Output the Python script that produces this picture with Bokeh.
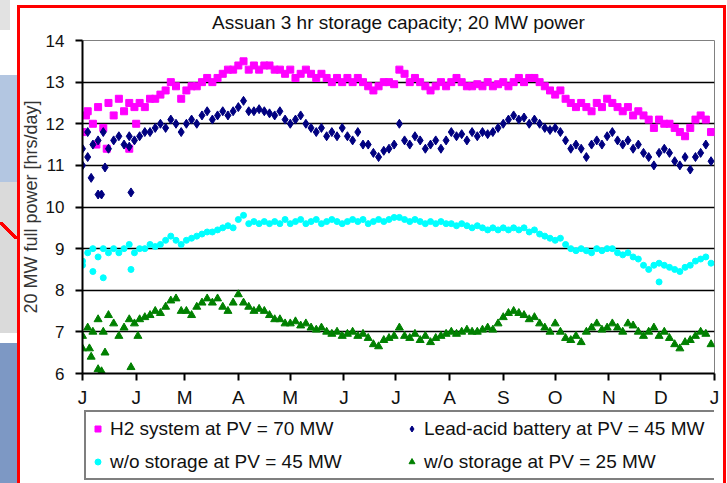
from bokeh.plotting import figure
from bokeh.layouts import column
from bokeh.models import FixedTicker, Legend, LegendItem
from bokeh.embed import file_html
from bokeh.resources import INLINE

FONT = "Liberation Sans"

# day of year for the sampled points (every 3rd day)
days = list(range(0, 364, 3))

# H2 system at PV = 70 MW  (hrs/day)
h2 = [11.8, 12.3, 12.0, 12.4, 11.9, 12.5, 12.2, 12.6, 12.3, 12.5, 12.4,
      12.5, 12.4, 12.6, 12.6, 12.7, 12.8, 13.0, 12.9, 12.6,
      12.8, 12.9, 12.9, 13.0, 13.1, 13.0, 13.1, 13.2, 13.3, 13.3,
      13.4, 13.5, 13.3, 13.4, 13.3, 13.4, 13.4, 13.3, 13.3, 13.2,
      13.3, 13.1, 13.2, 13.3, 13.2, 13.1, 13.2, 13.1, 13.0, 13.1, 13.0,
      13.1, 13.0, 13.1, 13.0, 12.9, 12.8, 12.9, 13.0, 13.0, 12.95,
      13.3, 13.2, 13.0, 13.1, 13.0, 12.9, 12.8, 12.9, 13.0, 12.9,
      13.0, 13.1, 13.0, 12.9, 12.9, 12.95, 12.9, 13.0, 12.9, 12.95,
      13.0, 12.9, 13.0, 13.1, 13.0, 13.1, 13.1, 13.0, 12.9, 12.8,
      12.7, 12.8, 12.6, 12.5, 12.4, 12.5, 12.4, 12.3, 12.5, 12.4, 12.6,
      12.5, 12.4, 12.3, 12.4, 12.2, 12.3, 12.2, 12.1, 11.9, 12.1,
      12.0, 12.0, 11.9, 11.8, 11.7, 11.9, 12.1, 12.2, 12.1, 11.8]

# Lead-acid battery at PV = 45 MW
lead = [11.4, 11.8, 11.5, 11.6, 11.8, 11.4, 11.6, 11.7, 11.5, 11.7, 11.6,
        11.7, 11.8, 11.8, 11.9, 12.0, 11.9, 12.1, 12.0, 11.8,
        12.0, 12.1, 12.0, 12.2, 12.3, 12.1, 12.2, 12.3, 12.2, 12.3,
        12.4, 12.55, 12.3, 12.3, 12.35, 12.3, 12.25, 12.2, 12.3, 12.1,
        12.0, 12.1, 12.2, 12.0, 11.9, 11.8, 11.9, 11.7, 11.8, 11.7, 11.9,
        11.7, 11.6, 11.8, 11.5, 11.5, 11.3, 11.2, 11.35, 11.4, 11.5,
        12.0, 11.6, 11.5, 11.7, 11.6, 11.4, 11.5, 11.6, 11.4, 11.6,
        11.8, 11.7, 11.75, 11.6, 11.8, 11.7, 11.8, 11.75, 11.8, 11.9,
        12.0, 12.1, 12.2, 12.1, 12.15, 12.0, 12.1, 12.0, 11.9, 11.85,
        11.9, 11.8, 11.6, 11.4, 11.5, 11.4, 11.2, 11.5, 11.6, 11.5, 11.7,
        11.8, 11.6, 11.5, 11.6, 11.4, 11.5, 11.3, 11.2, 11.0, 11.3,
        11.4, 11.3, 11.1, 11.0, 11.2, 10.9, 11.2, 11.3, 11.5, 11.1]

# w/o storage at PV = 45 MW
wo45 = [8.7, 8.9, 9.0, 8.8, 9.0, 8.9, 9.0, 8.9, 9.0, 9.1, 8.9,
        9.0, 9.0, 9.1, 9.05, 9.1, 9.2, 9.3, 9.2, 9.1,
        9.2, 9.25, 9.3, 9.35, 9.4, 9.4, 9.45, 9.5, 9.55, 9.5,
        9.7, 9.8, 9.6, 9.65, 9.6, 9.65, 9.6, 9.65, 9.6, 9.7,
        9.6, 9.65, 9.7, 9.6, 9.65, 9.7, 9.6, 9.65, 9.7, 9.65, 9.6,
        9.65, 9.7, 9.65, 9.7, 9.6, 9.65, 9.7, 9.65, 9.7, 9.75,
        9.75, 9.7, 9.65, 9.7, 9.65, 9.6, 9.65, 9.6, 9.65, 9.6,
        9.6, 9.55, 9.6, 9.55, 9.5, 9.55, 9.5, 9.45, 9.5, 9.45,
        9.5, 9.45, 9.5, 9.45, 9.5, 9.4, 9.45, 9.35, 9.3, 9.25,
        9.2, 9.25, 9.1, 9.0, 8.95, 9.0, 8.95, 8.9, 9.0, 8.95, 9.0,
        9.0, 8.9, 8.85, 8.9, 8.8, 8.75, 8.6, 8.5, 8.6, 8.65,
        8.6, 8.55, 8.5, 8.45, 8.55, 8.6, 8.7, 8.75, 8.8, 8.65]

# w/o storage at PV = 25 MW
wo25 = [6.9, 7.1, 7.0, 7.3, 7.0, 7.4, 7.2, 6.9, 7.1, 7.3, 7.2,
        7.3, 7.35, 7.4, 7.5, 7.45, 7.6, 7.75, 7.8, 7.5,
        7.5, 7.4, 7.6, 7.7, 7.8, 7.7, 7.8, 7.6, 7.5, 7.7,
        7.9, 7.7, 7.6, 7.5, 7.55, 7.5, 7.4, 7.3, 7.3, 7.2,
        7.2, 7.25, 7.15, 7.2, 7.1, 7.05, 7.1, 7.0, 6.95, 7.0, 6.9,
        6.95, 7.0, 6.9, 6.95, 6.85, 6.7, 6.65, 6.8, 6.85, 6.9,
        7.1, 6.9, 6.85, 6.95, 6.8, 6.9, 6.75, 6.85, 6.9, 6.95,
        7.0, 6.95, 7.0, 7.05, 7.0, 7.0, 7.05, 7.1, 7.05, 7.2,
        7.35, 7.45, 7.5, 7.45, 7.4, 7.3, 7.35, 7.2, 7.1, 7.0,
        7.2, 7.0, 6.85, 6.8, 6.9, 6.75, 7.0, 7.1, 7.2, 7.05, 7.1,
        7.2, 7.1, 7.0, 7.2, 7.15, 7.0, 6.9, 7.0, 7.1, 6.9,
        7.0, 6.85, 6.7, 6.6, 6.75, 6.8, 6.9, 7.0, 6.95, 6.7]

# scattered extra days (outliers)
h2_x_days = [8, 14, 27, 31, 2]
h2_x = [11.5, 11.4, 11.4, 12.0, 12.2]
lead_x_days = [0, 5, 9, 11, 13, 28, 27, 3]
lead_x = [11.0, 10.7, 10.3, 10.3, 10.95, 10.35, 11.45, 11.2]
wo45_x_days = [0, 6, 12, 28, 333]
wo45_x = [8.6, 8.45, 8.3, 8.5, 8.2]
wo25_x_days = [0, 5, 9, 13, 28, 4, 32, 11]
wo25_x = [6.6, 6.4, 6.1, 6.5, 6.15, 6.6, 6.9, 6.05]

month_ticks = [0, 31, 59, 90, 120, 151, 181, 212, 243, 273, 304, 334, 365]
month_labels = ["J", "J", "M", "A", "M", "J", "J", "A", "S", "O", "N", "D", "J"]
y_ticks = [6, 7, 8, 9, 10, 11, 12, 13, 14]
grid_ticks = [7, 8, 9, 10, 11, 12, 13]

labels = ["H2 system at PV = 70 MW", "Lead-acid battery at PV = 45 MW",
          "w/o storage at PV = 45 MW", "w/o storage at PV = 25 MW"]
styles = [("square", 7, "#FF00FF"), ("diamond", 9, "#000080"),
          ("circle", 6, "#00FFFF"), ("triangle", 8, "#008000")]
legend_sizes = [6, 8, 6, 7]
series = [h2, lead, wo45, wo25]
extra = [(h2_x_days, h2_x), (lead_x_days, lead_x),
         (wo45_x_days, wo45_x), (wo25_x_days, wo25_x)]

# ---------------- main chart ----------------
p = figure(frame_width=632, frame_height=333, x_range=(0, 365), y_range=(6, 14),
           output_backend="svg", toolbar_location=None,
           min_border_left=82, min_border_right=13, min_border_top=40,
           min_border_bottom=37)
p.background_fill_color = "white"
p.border_fill_alpha = 0
p.outline_line_color = "#808080"
p.outline_line_width = 1

p.title.text = "Assuan 3 hr storage capacity; 20 MW power"
p.title.align = "center"
p.title.text_font = FONT
p.title.text_font_size = "19px"
p.title.text_font_style = "normal"
p.title.text_color = "#111111"
p.title.standoff = 15
p.title.offset = 8

for (mk, sz, col), ys, (ex_x, ex_y) in zip(styles, series, extra):
    p.scatter(days, ys, marker=mk, size=sz, color=col)
    p.scatter(ex_x, ex_y, marker=mk, size=sz, color=col)

p.xgrid.visible = False
p.ygrid.ticker = FixedTicker(ticks=grid_ticks)
p.ygrid.grid_line_color = "black"
p.ygrid.grid_line_width = 1.6

for ax in (p.xaxis[0], p.yaxis[0]):
    ax.axis_line_color = "black"
    ax.axis_line_width = 2
    ax.major_tick_line_color = "black"
    ax.major_tick_line_width = 2
    ax.major_tick_in = 0
    ax.major_tick_out = 7
    ax.minor_tick_line_color = None
    ax.major_label_text_font = FONT
    ax.major_label_text_color = "#111111"

p.xaxis.ticker = FixedTicker(ticks=month_ticks)
p.xaxis.major_label_overrides = {t: l for t, l in zip(month_ticks, month_labels)}
p.xaxis.major_label_text_font_size = "19px"
p.xaxis.major_label_standoff = 6

p.yaxis.ticker = FixedTicker(ticks=y_ticks)
p.yaxis.major_label_text_font_size = "17px"
p.yaxis.major_label_standoff = 11
p.yaxis.axis_label = "20 MW full power [hrs/day]"
p.yaxis.axis_label_text_font = FONT
p.yaxis.axis_label_text_font_size = "18px"
p.yaxis.axis_label_text_font_style = "normal"
p.yaxis.axis_label_text_color = "#333333"
p.yaxis.axis_label_standoff = 2

# ---------------- legend strip (series kept out of its view) ----------------
q = figure(width=727, height=73, x_range=(0, 365), y_range=(100, 101),
           output_backend="svg", toolbar_location=None,
           x_axis_type=None, y_axis_type=None,
           min_border_left=0, min_border_right=0, min_border_top=0,
           min_border_bottom=0)
q.grid.visible = False
q.outline_line_color = None
q.background_fill_alpha = 0
q.border_fill_alpha = 0

items = []
for (mk, sz, col), lsz, ys, lab in zip(styles, legend_sizes, series, labels):
    r = q.scatter(days, ys, marker=mk, size=lsz, color=col)
    items.append(LegendItem(label=lab, renderers=[r]))

legend = Legend(items=items, location=(2, 3), orientation="horizontal", ncols=2)
legend.label_text_font = FONT
legend.label_text_font_size = "19px"
legend.label_text_color = "#111111"
legend.label_width = 286
legend.label_height = 25
legend.glyph_width = 15
legend.glyph_height = 15
legend.label_standoff = 5
legend.spacing = 8
legend.padding = 4
legend.margin = 0
legend.border_line_color = "black"
legend.border_line_width = 2
legend.background_fill_color = "white"
legend.background_fill_alpha = 1
q.add_layout(legend)

page = column(p, q, spacing=0)
# page behind the chart: slide pieces on the left and the red frame
page.styles = {
    "background-color": "white",
    "background-image": ", ".join([
        "linear-gradient(red, red)", "linear-gradient(red, red)",
        "linear-gradient(red, red)",
        "linear-gradient(to top right, transparent 44%, red 44%, red 56%, transparent 56%)",
        "linear-gradient(#b3c6e1, #b3c6e1)", "linear-gradient(#dadada, #dadada)",
        "linear-gradient(#7d98c4, #7d98c4)", "linear-gradient(#e2e2e2, #e2e2e2)"]),
    "background-position": "17px 5px, 17px 5px, 723px 5px, 0px 222px, 0px 75px, 0px 182px, 0px 343px, 0px 0px",
    "background-size": "709px 3px, 3px 480px, 3px 480px, 17px 17px, 17px 107px, 17px 151px, 17px 140px, 10px 30px",
    "background-repeat": "no-repeat",
}

open("out.html", "w").write(file_html(page, INLINE))
